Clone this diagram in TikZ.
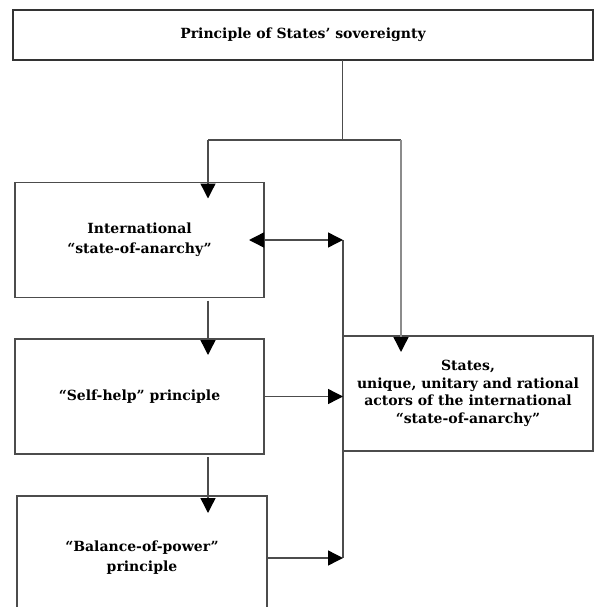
\documentclass[tikz,border=0pt]{standalone}
\usepackage{fontspec}
\setmainfont{DejaVu Serif}
\usetikzlibrary{arrows.meta}

\tikzset{
	box/.style={draw=black!70, line width=1.3pt, inner sep=0pt, outer sep=0pt,
		minimum width=249pt, minimum height=115pt, align=center,
		font=\bfseries\fontsize{14}{20}\selectfont},
	link/.style={draw=black!70, line width=1.4pt},
	arr/.style={link, ->}
}

\begin{document}
\begin{tikzpicture}[x=1pt, y=-1pt, >={Triangle[length=15pt,width=15pt,black]}]
	\useasboundingbox (0,0) rectangle (594,607);

	\node[box, draw=black!80, line width=2.2pt, minimum width=580pt, minimum height=50pt]
		(sov) at (303,35) {Principle of States’ sovereignty};
	\node[box] (anarchy) at (139.5,240) {International\\“state-of-anarchy”};
	\node[box] (selfhelp) at (139.5,396.5) {“Self-help” principle};
	\node[box, minimum width=250pt, minimum height=124pt] (balance) at (142,558)
		{“Balance-of-power”\\principle};
	\node[box, minimum width=250pt, font=\bfseries\fontsize{14}{17.5}\selectfont]
		(states) at (468,393.5)
		{States,\\unique, unitary and rational\\actors of the international\\“state-of-anarchy”};

	\coordinate (split) at (342.7,140);
	\coordinate (lcol) at (208,140);
	\coordinate (rcol) at (401,140);
	\coordinate (bus) at (343,240);

	\draw[link] (sov.south -| split) -- (split);
	\draw[link] (lcol) -- (rcol);
	\draw[arr, shorten >=-16pt] (lcol) -- (lcol |- anarchy.north);
	\draw[arr, draw=black!45, shorten >=-16pt] (rcol) -- (rcol |- states.north);
	\draw[arr, shorten <=3pt, shorten >=-16pt] (lcol |- anarchy.south) -- (lcol |- selfhelp.north);
	\draw[arr, shorten <=3pt, shorten >=-17pt] (lcol |- selfhelp.south) -- (lcol |- balance.north);

	% bus to the states box
	\draw[link] (bus |- anarchy.east) -- (bus |- balance.east);
	\draw[link, <->, shorten <=-15pt] (anarchy.east) -- (anarchy.east -| bus);
	\draw[arr] (selfhelp.east) -- (selfhelp.east -| bus);
	\draw[arr] (balance.east) -- (balance.east -| bus);
\end{tikzpicture}
\end{document}
